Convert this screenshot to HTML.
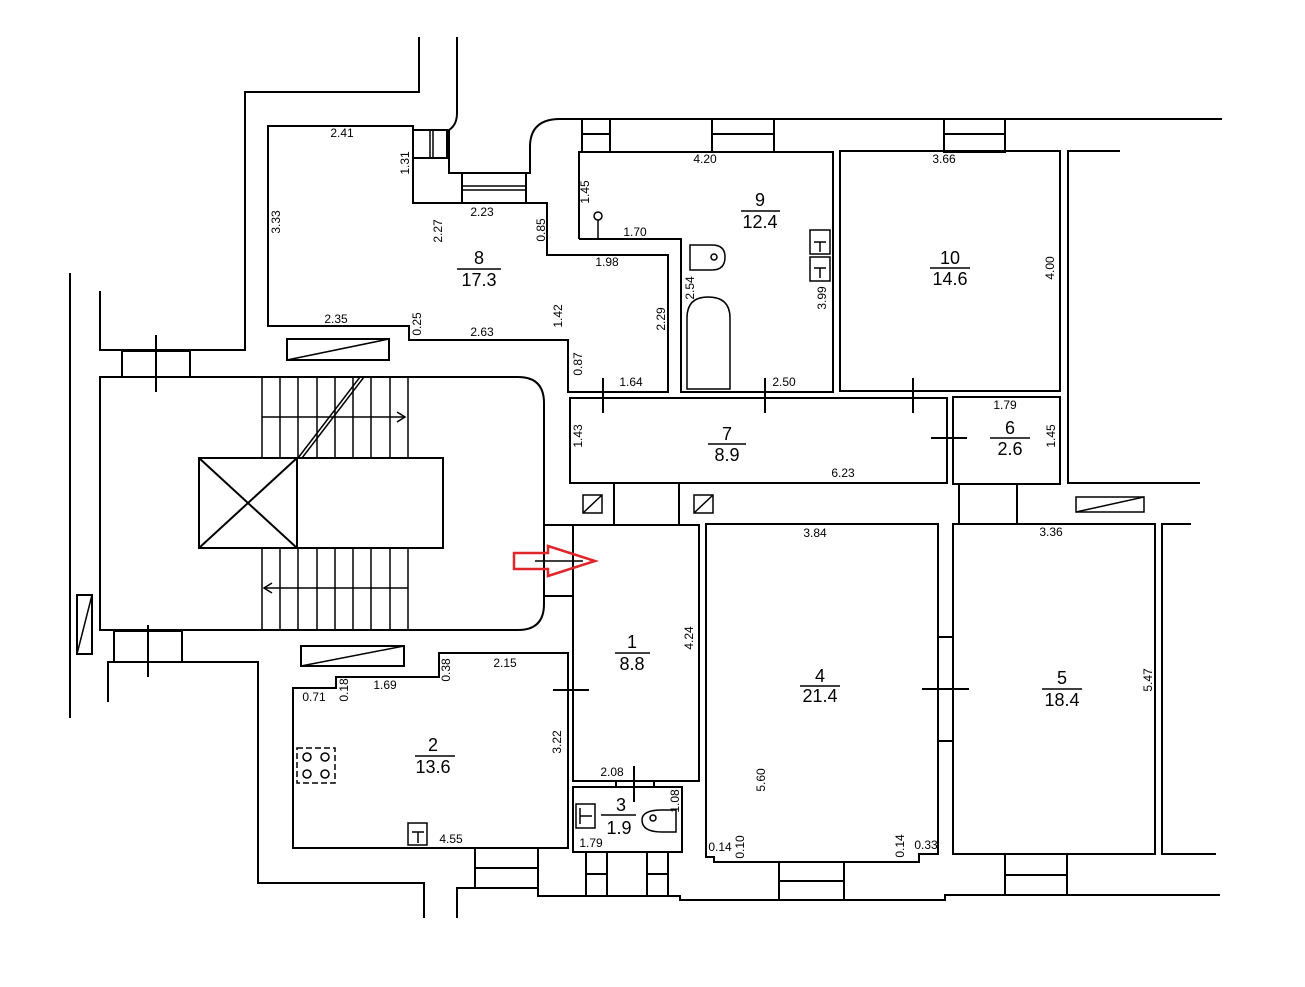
<!DOCTYPE html>
<html><head><meta charset="utf-8"><style>
html,body{margin:0;padding:0;background:#fff;width:1305px;height:987px;overflow:hidden}
svg text{font-family:"Liberation Sans",sans-serif;fill:#000}
.d{font-size:12px}
.n{font-size:18px}
</style></head><body>
<svg width="1305" height="987" viewBox="0 0 1305 987" xmlns="http://www.w3.org/2000/svg">
<g fill="none" stroke="#000" stroke-width="2">
<polyline points="419,37 419,92 245,92 245,350 100,350 100,291"/>
<path d="M457,37 L457,113 Q457,125 449,130 L449,173 L530,173 L530,147 Q530,119 560,119 L1222,119"/>
<line x1="70" y1="273" x2="70" y2="718"/>
<polygon points="268,126 413,126 413,203 547,203 547,255 668,255 668,392 568,392 568,340 409,340 409,326 268,326"/>
<rect x="413" y="130" width="34" height="28"/>
<line x1="430" y1="130" x2="430" y2="158" stroke-width="1.5"/><line x1="433" y1="130" x2="433" y2="158" stroke-width="1.5"/>
<rect x="462" y="173" width="64" height="30"/>
<line x1="462" y1="186" x2="526" y2="186" stroke-width="1.5"/><line x1="462" y1="190" x2="526" y2="190" stroke-width="1.5"/>
<path d="M100,377 L518,377 Q544,377 544,403 L544,604 Q544,630 518,630 L100,630 Z"/>
<rect x="122" y="351" width="68" height="26"/>
<line x1="156" y1="335" x2="156" y2="392"/>
<rect x="287" y="339" width="102" height="21"/>
<line x1="287" y1="360" x2="389" y2="339" stroke-width="1.5"/>
<g stroke-width="1.5">
<line x1="262" y1="377" x2="262" y2="458"/><line x1="280" y1="377" x2="280" y2="458"/><line x1="298" y1="377" x2="298" y2="458"/><line x1="317" y1="377" x2="317" y2="458"/><line x1="335" y1="377" x2="335" y2="458"/><line x1="353" y1="377" x2="353" y2="458"/><line x1="371" y1="377" x2="371" y2="458"/><line x1="390" y1="377" x2="390" y2="458"/><line x1="408" y1="377" x2="408" y2="458"/>
<line x1="262" y1="417" x2="405" y2="417"/><polyline points="397,412 405,417 397,422"/>
<line x1="262" y1="548" x2="262" y2="630"/><line x1="280" y1="548" x2="280" y2="630"/><line x1="298" y1="548" x2="298" y2="630"/><line x1="317" y1="548" x2="317" y2="630"/><line x1="335" y1="548" x2="335" y2="630"/><line x1="353" y1="548" x2="353" y2="630"/><line x1="371" y1="548" x2="371" y2="630"/><line x1="390" y1="548" x2="390" y2="630"/><line x1="408" y1="548" x2="408" y2="630"/>
<line x1="264" y1="588" x2="408" y2="588"/><polyline points="272,583 264,588 272,593"/>
<line x1="298" y1="458" x2="360" y2="377"/><line x1="302" y1="458" x2="364" y2="377"/>
</g>
<rect x="199" y="458" width="244" height="90"/>
<line x1="297" y1="458" x2="297" y2="548"/>
<line x1="199" y1="458" x2="297" y2="548"/><line x1="297" y1="458" x2="199" y2="548"/>
<line x1="544" y1="525" x2="573" y2="525"/><line x1="544" y1="596" x2="573" y2="596"/>
<polyline points="579,239 579,152 833,152 833,392 681,392 681,239 579,239"/>
<rect x="582" y="119" width="28" height="33"/><line x1="582" y1="134" x2="610" y2="134"/>
<rect x="712" y="119" width="62" height="33"/><line x1="712" y1="134" x2="774" y2="134"/>
<rect x="944" y="119" width="61" height="33"/><line x1="944" y1="134" x2="1005" y2="134"/>
<rect x="840" y="151" width="220" height="240"/>
<polyline points="1120,151 1068,151 1068,483 1200,483"/>
<rect x="570" y="398" width="377" height="85"/>
<rect x="953" y="397" width="107" height="87"/>
<line x1="603" y1="378" x2="603" y2="413"/><line x1="765" y1="378" x2="765" y2="413"/><line x1="913" y1="378" x2="913" y2="413"/>
<line x1="931" y1="438" x2="967" y2="438"/>
<line x1="579" y1="392" x2="668" y2="392"/>
<line x1="614" y1="483" x2="614" y2="525"/><line x1="679" y1="483" x2="679" y2="525"/>
<line x1="959" y1="483" x2="959" y2="525"/><line x1="1017" y1="483" x2="1017" y2="525"/>
<rect x="583" y="495" width="19" height="18" stroke-width="1.5"/><line x1="583" y1="513" x2="602" y2="495" stroke-width="1.5"/>
<rect x="694" y="495" width="19" height="18" stroke-width="1.5"/><line x1="694" y1="513" x2="713" y2="495" stroke-width="1.5"/>
<rect x="1076" y="497" width="68" height="15" stroke-width="1.5"/><line x1="1076" y1="512" x2="1144" y2="497" stroke-width="1.5"/>
<rect x="573" y="525" width="126" height="256"/>
<polygon points="706,524 938,524 938,854 919,854 919,862 714,862 714,857 706,857"/>
<rect x="953" y="524" width="202" height="330"/>
<polyline points="1191,524 1162,524 1162,854 1216,854"/>
<line x1="938" y1="637" x2="953" y2="637"/><line x1="938" y1="741" x2="953" y2="741"/>
<line x1="922" y1="689" x2="969" y2="689"/>
<polygon points="293,688 336,688 336,677 439,677 439,653 568,653 568,848 293,848"/>
<line x1="553" y1="690" x2="589" y2="690"/>
<rect x="114" y="631" width="68" height="31"/>
<line x1="148" y1="625" x2="148" y2="677"/>
<polyline points="108,702 108,662 258,662 258,883 424,883 424,918"/>
<rect x="77" y="595" width="15" height="59"/><line x1="77" y1="654" x2="92" y2="595" stroke-width="1.5"/>
<rect x="301" y="646" width="103" height="20"/><line x1="301" y1="666" x2="404" y2="646" stroke-width="1.5"/>
<rect x="475" y="848" width="63" height="40"/><line x1="475" y1="868" x2="538" y2="868"/>
<polyline points="457,918 457,888 475,888"/>
<polyline points="538,848 538,896 680,896 680,900 945,900 945,895 1220,895"/>
<rect x="573" y="787" width="109" height="65"/>
<line x1="616" y1="781" x2="616" y2="787"/><line x1="654" y1="781" x2="654" y2="787"/>
<line x1="634" y1="766" x2="634" y2="802"/>
<rect x="586" y="852" width="21" height="44"/><line x1="586" y1="874" x2="607" y2="874"/>
<rect x="647" y="852" width="21" height="44"/><line x1="647" y1="874" x2="668" y2="874"/>
<rect x="779" y="862" width="65" height="38"/><line x1="779" y1="881" x2="844" y2="881"/>
<rect x="1005" y="854" width="62" height="41"/><line x1="1005" y1="875" x2="1067" y2="875"/>
<g stroke-width="1.5">
<circle cx="598" cy="216" r="4"/><line x1="598" y1="220" x2="598" y2="239"/>
<path d="M690,245 L712,245 Q725,245 725,257 Q725,270 712,270 L690,270 Z"/><circle cx="714" cy="257" r="3"/>
<path d="M687,389 L687,318 Q687,297 708,297 Q730,297 730,318 L730,389 Z"/>
<rect x="810" y="230" width="20" height="24"/><polyline points="814,242 826,242"/><line x1="820" y1="242" x2="820" y2="252"/>
<rect x="810" y="257" width="20" height="24"/><line x1="814" y1="268" x2="826" y2="268"/><line x1="820" y1="268" x2="820" y2="278"/>
<rect x="297" y="748" width="38" height="35" stroke-dasharray="6,3"/>
<circle cx="307" cy="757" r="4"/><circle cx="325" cy="757" r="4"/><circle cx="307" cy="774" r="4"/><circle cx="325" cy="774" r="4"/>
<rect x="408" y="823" width="19" height="22"/><line x1="412" y1="832" x2="424" y2="832"/><line x1="418" y1="832" x2="418" y2="843"/>
<rect x="576" y="804" width="19" height="24"/><line x1="580" y1="816" x2="592" y2="816"/><line x1="580" y1="808" x2="580" y2="824"/>
<path d="M662,810 Q642,810 642,820 Q642,832 662,832 L676,832 L676,810 Z"/><circle cx="653" cy="818" r="3"/>
</g>
<path d="M514,553 L548,553 L548,546 L595,561 L548,576 L548,569 L514,569 Z" stroke="#e0262a" stroke-width="2.5"/>
<line x1="535" y1="561" x2="583" y2="561" stroke-width="1.5"/>
<g stroke-width="1.5">
<line x1="457" y1="269" x2="501" y2="269"/><line x1="741" y1="211" x2="780" y2="211"/>
<line x1="930" y1="268" x2="970" y2="268"/><line x1="708" y1="444" x2="746" y2="444"/>
<line x1="990" y1="438" x2="1030" y2="438"/><line x1="615" y1="653" x2="650" y2="653"/>
<line x1="415" y1="756" x2="455" y2="756"/><line x1="601" y1="815" x2="636" y2="815"/>
<line x1="800" y1="686" x2="840" y2="686"/><line x1="1042" y1="689" x2="1082" y2="689"/>
</g>
</g>
<g class="n" text-anchor="middle">
<text x="479" y="264">8</text><text x="479" y="286">17.3</text>
<text x="760" y="206">9</text><text x="760" y="228">12.4</text>
<text x="950" y="264">10</text><text x="950" y="285">14.6</text>
<text x="727" y="440">7</text><text x="727" y="461">8.9</text>
<text x="1010" y="434">6</text><text x="1010" y="455">2.6</text>
<text x="632" y="648">1</text><text x="632" y="670">8.8</text>
<text x="433" y="751">2</text><text x="433" y="773">13.6</text>
<text x="621" y="811">3</text><text x="619" y="834">1.9</text>
<text x="820" y="682">4</text><text x="820" y="702">21.4</text>
<text x="1062" y="684">5</text><text x="1062" y="706">18.4</text>
</g>
<g class="d" text-anchor="middle">
<text x="342" y="137">2.41</text><text x="482" y="216">2.23</text><text x="607" y="266">1.98</text>
<text x="635" y="236">1.70</text><text x="336" y="323">2.35</text><text x="482" y="336">2.63</text>
<text x="631" y="386">1.64</text><text x="705" y="163">4.20</text><text x="944" y="163">3.66</text>
<text x="784" y="386">2.50</text><text x="1005" y="409">1.79</text><text x="843" y="477">6.23</text>
<text x="815" y="537">3.84</text><text x="1051" y="536">3.36</text><text x="314" y="701">0.71</text>
<text x="385" y="689">1.69</text><text x="505" y="667">2.15</text><text x="612" y="776">2.08</text>
<text x="451" y="843">4.55</text><text x="591" y="847">1.79</text><text x="720" y="851">0.14</text>
<text x="926" y="849">0.33</text>
</g>
<g class="d" text-anchor="middle">
<text transform="translate(409,163) rotate(-90)">1.31</text>
<text transform="translate(280,222) rotate(-90)">3.33</text>
<text transform="translate(442,231) rotate(-90)">2.27</text>
<text transform="translate(545,230) rotate(-90)">0.85</text>
<text transform="translate(562,316) rotate(-90)">1.42</text>
<text transform="translate(421,324) rotate(-90)">0.25</text>
<text transform="translate(582,364) rotate(-90)">0.87</text>
<text transform="translate(665,319) rotate(-90)">2.29</text>
<text transform="translate(589,192) rotate(-90)">1.45</text>
<text transform="translate(694,288) rotate(-90)">2.54</text>
<text transform="translate(826,298) rotate(-90)">3.99</text>
<text transform="translate(1054,268) rotate(-90)">4.00</text>
<text transform="translate(582,436) rotate(-90)">1.43</text>
<text transform="translate(1055,436) rotate(-90)">1.45</text>
<text transform="translate(693,638) rotate(-90)">4.24</text>
<text transform="translate(1152,680) rotate(-90)">5.47</text>
<text transform="translate(348,690) rotate(-90)">0.18</text>
<text transform="translate(450,670) rotate(-90)">0.38</text>
<text transform="translate(561,742) rotate(-90)">3.22</text>
<text transform="translate(679,801) rotate(-90)">1.08</text>
<text transform="translate(765,780) rotate(-90)">5.60</text>
<text transform="translate(744,847) rotate(-90)">0.10</text>
<text transform="translate(904,846) rotate(-90)">0.14</text>
</g>
</svg>
</body></html>
